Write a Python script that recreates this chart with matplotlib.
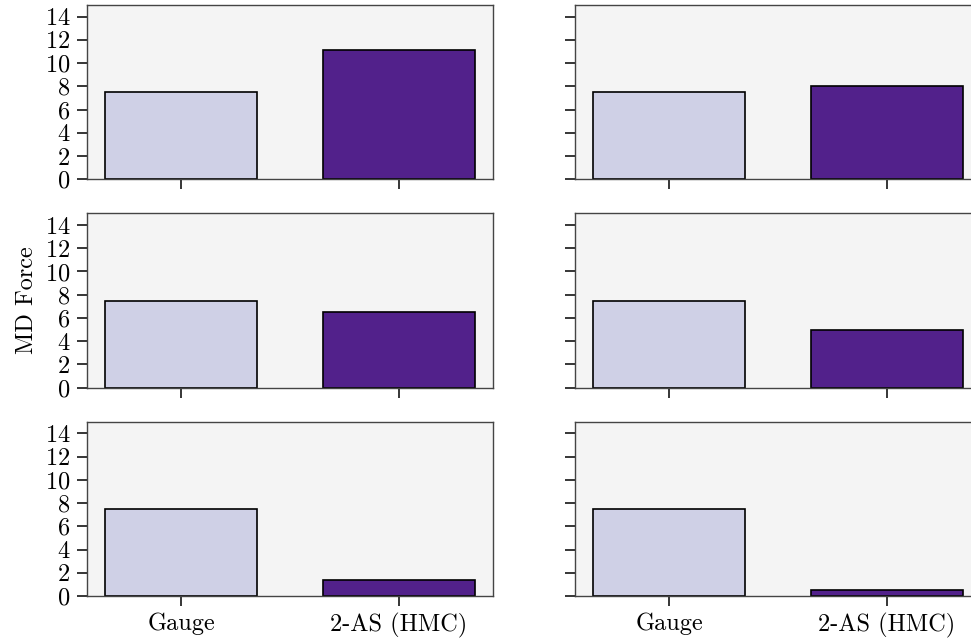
import matplotlib
matplotlib.use("Agg")
import matplotlib.pyplot as plt

categories = ["Gauge", "2-AS (HMC)"]
gauge_values = [7.5, 7.5, 7.5, 7.5, 7.5, 7.5]
hmc_values = [11.1, 8.05, 6.5, 5.0, 1.4, 0.5]
yticks = [0, 2, 4, 6, 8, 10, 12, 14]
colors = ["#cfd0e6", "#52218b"]

plt.rcParams['font.family'] = ['cmr10', 'DejaVu Serif']
plt.rcParams['axes.formatter.use_mathtext'] = True
plt.rcParams['font.size'] = 17.5

W, H = 971, 640
fig = plt.figure(figsize=(W / 100, H / 100), dpi=100)
gs = fig.add_gridspec(3, 2, left=87 / W, right=981 / W, top=1 - 5 / H, bottom=1 - 596 / H,
                      wspace=82 / 406, hspace=34 / 174)
axes = []
for r in range(3):
    for c in range(2):
        ax = fig.add_subplot(gs[r, c])
        axes.append(ax)
        i = r * 2 + c
        ax.set_facecolor("#f4f4f4")
        ax.bar(categories, [gauge_values[i], hmc_values[i]], width=0.7, color=colors,
               edgecolor="black", linewidth=1.2)
        ax.set_ylim(0, 15)
        ax.set_yticks(yticks)
        ax.tick_params(axis='both', length=7, width=1.1, color='black', pad=5)
        for s in ax.spines.values():
            s.set_color("#444444")
            s.set_linewidth(1.0)
        if c == 1:
            ax.set_yticklabels([])
        if r < 2:
            ax.set_xticklabels([])
        if r == 1 and c == 0:
            ax.set_ylabel("MD Force", labelpad=5)

fig.savefig("out.png", dpi=100)
